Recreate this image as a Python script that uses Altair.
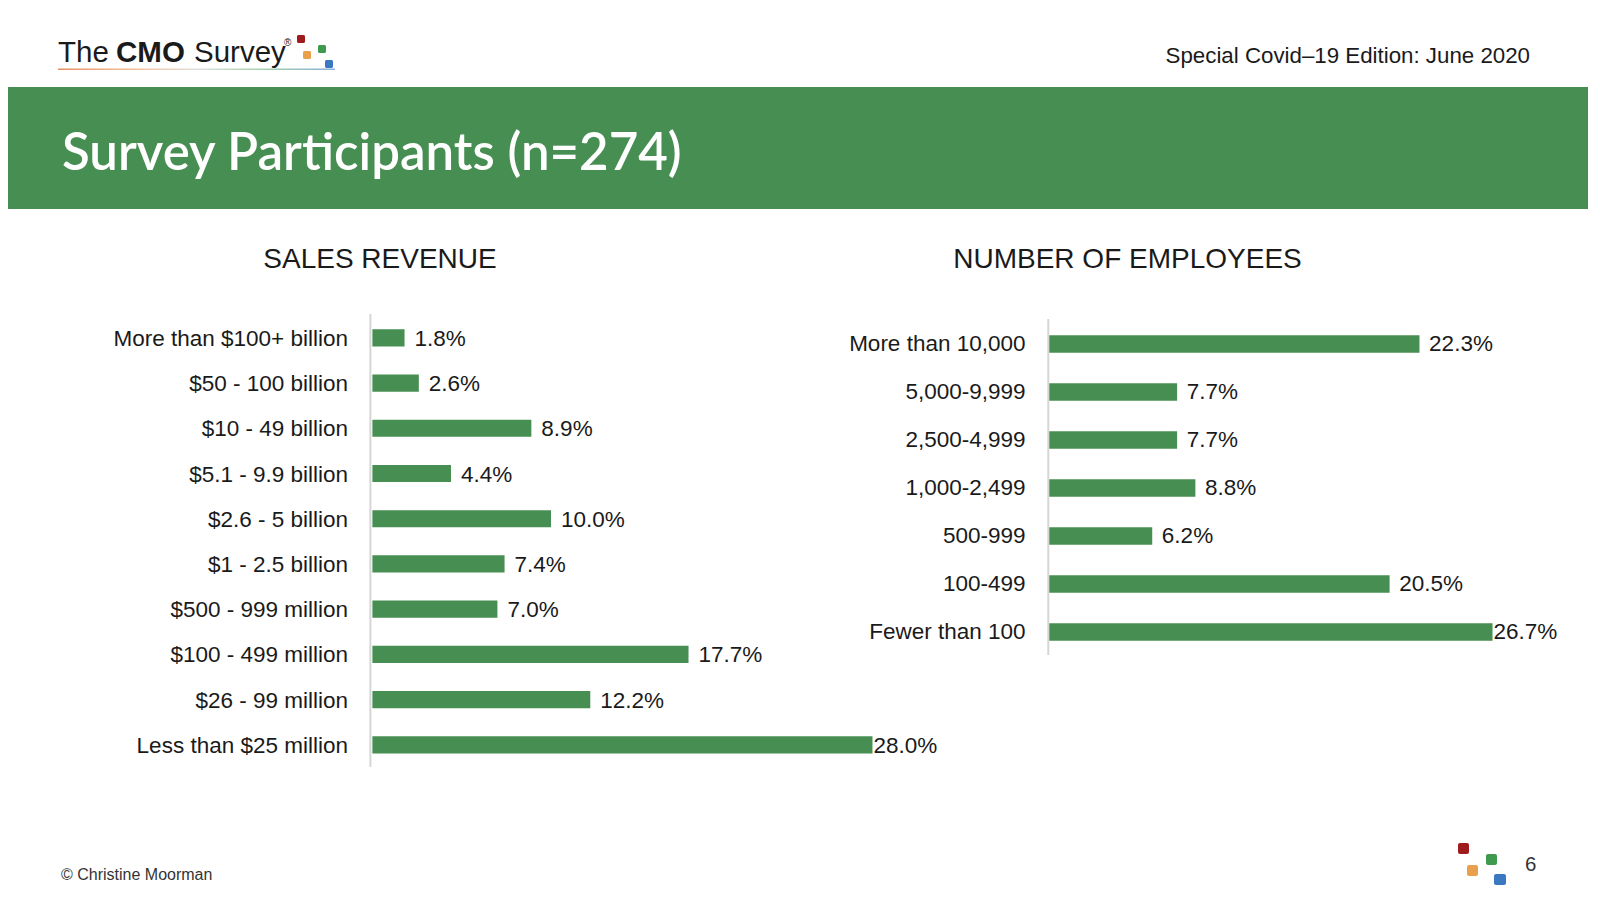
import altair as alt
import pandas as pd

# ---------------- data ----------------
rev_cats = ["More than $100+ billion", "$50 - 100 billion", "$10 - 49 billion",
            "$5.1 - 9.9 billion", "$2.6 - 5 billion", "$1 - 2.5 billion",
            "$500 - 999 million", "$100 - 499 million", "$26 - 99 million",
            "Less than $25 million"]
rev_vals = [1.8, 2.6, 8.9, 4.4, 10.0, 7.4, 7.0, 17.7, 12.2, 28.0]

emp_cats = ["More than 10,000", "5,000-9,999", "2,500-4,999", "1,000-2,499",
            "500-999", "100-499", "Fewer than 100"]
emp_vals = [22.3, 7.7, 7.7, 8.8, 6.2, 20.5, 26.7]

title_text = "Survey Participants (n=274)"
edition_text = "Special Covid\u201319 Edition: June 2020"
left_title = "SALES REVENUE"
right_title = "NUMBER OF EMPLOYEES"
footer_text = "\u00a9 Christine Moorman"
page_no = "6"

# ---------------- style ----------------
OFF = 8          # page margin: reference pixel -> chart pixel
W, H = 1580, 878
GREEN = "#478E52"
DARK = "#1a1a1a"
FONT = "Liberation Sans"
RED, ORANGE, SQGREEN, BLUE = "#9E1B1E", "#E9A04C", "#3F9A4F", "#3B78C2"

one = pd.DataFrame({"k": [0]})


def p(v):
    return v - OFF


def rect(x1, y1, x2, y2, color, r=0, **kw):
    return alt.Chart(one).mark_rect(color=color, cornerRadius=r, **kw).encode(
        x=alt.value(p(x1)), x2=alt.value(p(x2)), y=alt.value(p(y1)), y2=alt.value(p(y2)))


def txt(s, x, y, size, color=DARK, font=FONT, weight="normal", align="left"):
    return alt.Chart(one).mark_text(text=s, font=font, fontSize=size, fontWeight=weight,
                                    color=color, align=align, baseline="alphabetic").encode(
        x=alt.value(p(x)), y=alt.value(p(y)))


def panel(cats, vals, x0, pxpp, y_lo, y_hi, pin, label_x, gap, tight, dy):
    df = pd.DataFrame({"cat": cats, "value": vals})
    xs = alt.Scale(domain=[0, 30], range=[p(x0), p(x0 + 30 * pxpp)], zero=True)
    ys = alt.Scale(domain=cats, range=[p(y_lo), p(y_hi)], paddingInner=pin, paddingOuter=pin / 2)
    base = alt.Chart(df)
    bars = base.mark_bar(color=GREEN).encode(
        x=alt.X("value:Q", scale=xs, axis=None),
        y=alt.Y("cat:N", scale=ys, axis=None, sort=cats))
    labels = base.mark_text(align="right", baseline="middle", dy=dy, font=FONT,
                            fontSize=22.5, color=DARK).encode(
        x=alt.value(p(label_x)),
        y=alt.Y("cat:N", scale=ys, axis=None, sort=cats),
        text="cat:N")
    values = base.transform_joinaggregate(mx="max(value)").transform_calculate(
        lx=f"datum.value + (datum.value == datum.mx ? {tight} : {gap})",
        lab="format(datum.value, '.1f') + '%'"
    ).mark_text(align="left", baseline="middle", dy=dy, font=FONT, fontSize=22.5,
                color=DARK).encode(
        x=alt.X("lx:Q", scale=xs, axis=None),
        y=alt.Y("cat:N", scale=ys, axis=None, sort=cats),
        text="lab:N")
    return alt.layer(bars, labels, values)


left = panel(rev_cats, rev_vals, 372.4, 17.86, 315.2, 767.5, 0.62, 348, 0.56, 0.06, 1)
right = panel(emp_cats, emp_vals, 1049.3, 16.6, 320, 656, 0.635, 1025.5, 0.58, 0.06, 0)

axis_left = alt.Chart(one).mark_rule(color="#d6d6d6", strokeWidth=2).encode(
    x=alt.value(p(370.4)), y=alt.value(p(314)), y2=alt.value(p(767)))
axis_right = alt.Chart(one).mark_rule(color="#d6d6d6", strokeWidth=2).encode(
    x=alt.value(p(1048.3)), y=alt.value(p(319)), y2=alt.value(p(655)))

underline = alt.Chart(one).mark_rect(
    fill=alt.LinearGradient(gradient="linear", x1=0, x2=1, y1=0, y2=0, stops=[
        alt.GradientStop(color="#e2703a", offset=0),
        alt.GradientStop(color="#f1b58a", offset=0.3),
        alt.GradientStop(color="#d8d8d8", offset=0.5),
        alt.GradientStop(color="#8cc596", offset=0.75),
        alt.GradientStop(color="#6d9ad6", offset=1)]),
    opacity=0.8).encode(
    x=alt.value(p(58)), x2=alt.value(p(335)), y=alt.value(p(68.5)), y2=alt.value(p(70)))

decor = [
    # header
    txt("The", 58, 62, 29.5),
    txt("CMO", 116, 62, 29.5, weight="bold"),
    txt("Survey", 194, 62, 29.5),
    txt("\u00ae", 284, 46, 10),
    underline,
    rect(297, 35, 305, 43, RED, 1.5),
    rect(303, 51, 311, 59, ORANGE, 1.5),
    rect(318, 45, 326, 53, SQGREEN, 1.5),
    rect(325, 60, 333, 68, BLUE, 1.5),
    txt(edition_text, 1530, 62.7, 22.3, align="right"),
    rect(0, 87, 1600, 209, GREEN),
    txt(title_text, 62, 169.5, 51, color="white", font="Lato", weight=600),
    # section titles
    txt(left_title, 380, 268.3, 28, align="center"),
    txt(right_title, 1127.5, 268.3, 28, align="center"),
    axis_left, axis_right,
    # footer
    txt(footer_text, 61, 880, 16, color="#333333"),
    rect(1458, 843, 1469, 854, RED, 2),
    rect(1486, 854, 1497, 865, SQGREEN, 2),
    rect(1467, 865, 1478, 876, ORANGE, 2),
    rect(1494, 874, 1506, 885, BLUE, 2),
    txt(page_no, 1525, 870.7, 20.5, color="#333333"),
]

chart = alt.layer(*decor, left, right).resolve_scale(
    x="independent", y="independent"
).properties(
    width=W, height=H, autosize=alt.AutoSizeParams(type="none"), padding=0
).configure_view(strokeWidth=0)

chart.save("out.html", embed_options={"renderer": "svg", "actions": False})
